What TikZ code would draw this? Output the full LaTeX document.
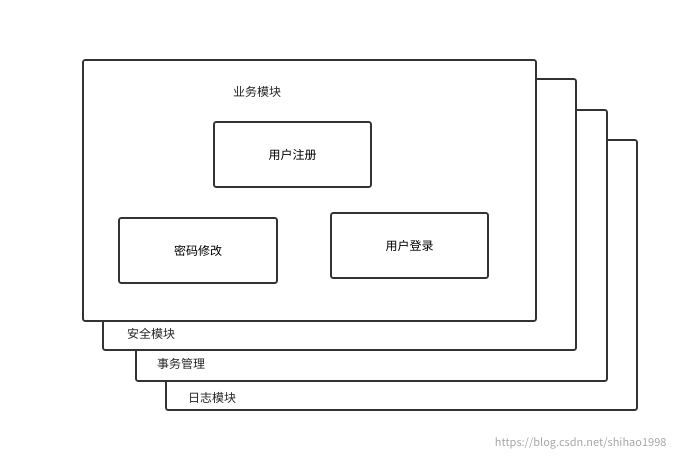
\documentclass[tikz,border=0pt]{standalone}
\usepackage{fontspec}
\setmainfont{Noto Sans CJK SC}
\begin{document}
\begin{tikzpicture}[x=1pt,y=-1pt,
  layer/.style={draw=black!80,line width=1.7pt,fill=white,rounded corners=2pt},
  inner/.style={draw=black!80,line width=1.7pt,fill=white,rounded corners=2pt},
  lbl/.style={font=\fontsize{12}{14}\selectfont,text=black!85,anchor=west,inner sep=0}]
\useasboundingbox (0,0) rectangle (678,463);
\draw[layer] (166,140) rectangle (637,410);
\node[lbl] (l4) at (188,398) {日志模块};
\draw[layer] (136,110) rectangle (607,381);
\node[lbl] (l3) at (157,364) {事务管理};
\draw[layer] (103,79) rectangle (576,350);
\node[lbl] (l2) at (127,334) {安全模块};
\draw[layer] (83,60) rectangle (536,321);
\node[lbl] (l1) at (233,92) {业务模块};
\draw[inner] (214,122) rectangle node[font=\fontsize{12}{14}\selectfont] (a) {用户注册} (371,187);
\draw[inner] (119,218) rectangle node[font=\fontsize{12}{14}\selectfont] (b) {密码修改} (277,283);
\draw[inner] (331,213) rectangle node[font=\fontsize{12}{14}\selectfont] (c) {用户登录} (488,278);
\node[font=\fontsize{11}{13}\selectfont,text=black!35,anchor=east] (w) at (670,443) {https://blog.csdn.net/shihao1998};
\end{tikzpicture}
\end{document}
